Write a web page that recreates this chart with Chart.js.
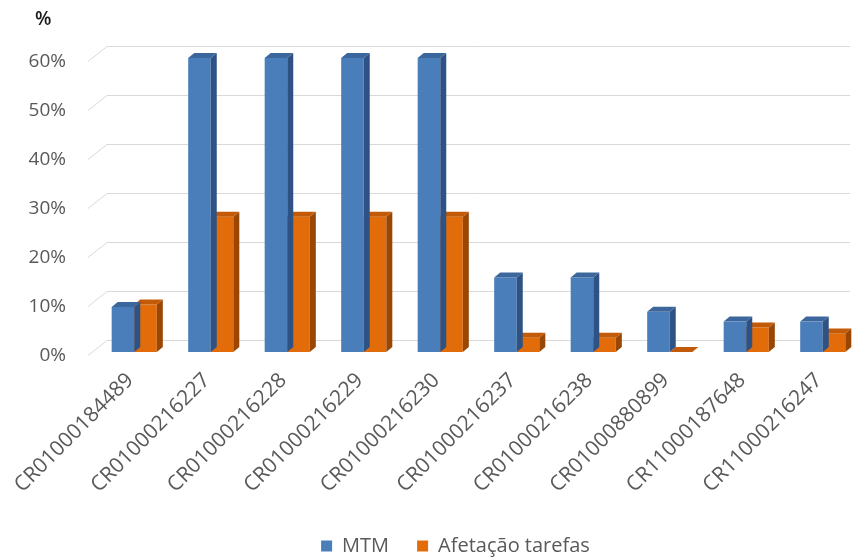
<!DOCTYPE html>
<html>
<head>
<meta charset="utf-8">
<script src="https://cdn.jsdelivr.net/npm/chart.js@4.4.0/dist/chart.umd.min.js"></script>
<style>
  html, body { margin: 0; padding: 0; background: #fff; }
  #wrap { width: 861px; height: 558px; position: relative; }
</style>
</head>
<body>
<div id="wrap"><canvas id="chart"></canvas></div>
<script>
const categories = ['CR01000184489', 'CR01000216227', 'CR01000216228', 'CR01000216229', 'CR01000216230',
  'CR01000216237', 'CR01000216238', 'CR01000880899', 'CR11000187648', 'CR11000216247'];
const mtmValues = [9.2, 60, 60, 60, 60, 15.2, 15.2, 8.2, 6.2, 6.2];
const afetacaoValues = [9.7, 27.6, 27.6, 27.6, 27.6, 2.9, 2.9, 0, 5.0, 3.8];
const yTicks = [0, 10, 20, 30, 40, 50, 60];

const FONT = "'Open Sans', 'Liberation Sans', sans-serif";
const TEXT = '#595959';

// side / top colours for the fake 3D look
const faces = [
  { top: '#3c679c', side: '#2e5283' },
  { top: '#c25a08', side: '#9a4605' }
];
const DX = 6, DY = 5;

const depthPlugin = {
  id: 'depth',
  afterLayout(chart) {
    // legend sits a little right of centre and lower in the original
    const lg = chart.legend;
    lg.left += 25;
    lg.right += 25;
    lg.top += 8;
    lg.bottom += 8;
  },
  beforeDatasetsDraw(chart) {
    const ctx = chart.ctx;
    const y = chart.scales.y;
    const area = chart.chartArea;
    ctx.save();
    ctx.strokeStyle = '#d9d9d9';
    ctx.lineWidth = 1;
    yTicks.forEach(v => {
      const py = Math.round(y.getPixelForValue(v)) + 0.5;
      ctx.beginPath();
      ctx.moveTo(area.left - 8, py + 3);
      ctx.lineTo(area.left + 11, py - 12);
      ctx.lineTo(area.right - 11, py - 12);
      ctx.stroke();
    });
    // "%" unit label
    ctx.fillStyle = '#1a1a1a';
    ctx.font = '600 19px ' + FONT;
    ctx.textAlign = 'left';
    ctx.textBaseline = 'middle';
    ctx.fillText('%', 35, 20);
    ctx.restore();
  },
  afterDatasetDraw(chart, args) {
    const ctx = chart.ctx;
    const f = faces[args.index];
    const meta = args.meta;
    ctx.save();
    meta.data.forEach(bar => {
      const left = bar.x - bar.width / 2;
      const right = bar.x + bar.width / 2;
      const top = bar.y;
      const base = bar.base;
      ctx.fillStyle = f.side;
      ctx.beginPath();
      ctx.moveTo(right, top);
      ctx.lineTo(right + DX, top - DY);
      ctx.lineTo(right + DX, base - DY);
      ctx.lineTo(right, base);
      ctx.closePath();
      ctx.fill();
      ctx.fillStyle = f.top;
      ctx.beginPath();
      ctx.moveTo(left, top);
      ctx.lineTo(left + DX, top - DY);
      ctx.lineTo(right + DX, top - DY);
      ctx.lineTo(right, top);
      ctx.closePath();
      ctx.fill();
    });
    ctx.restore();
  }
};

new Chart(document.getElementById('chart'), {
  type: 'bar',
  data: {
    labels: categories,
    datasets: [
      {
        label: 'MTM',
        data: mtmValues,
        backgroundColor: '#4a7ebb',
        categoryPercentage: 0.59,
        barPercentage: 1
      },
      {
        label: 'Afetação tarefas',
        data: afetacaoValues,
        backgroundColor: '#e36c0a',
        categoryPercentage: 0.59,
        barPercentage: 1
      }
    ]
  },
  options: {
    responsive: true,
    maintainAspectRatio: false,
    animation: false,
    layout: { padding: { top: 58, left: 0, right: 0, bottom: 0 } },
    scales: {
      x: {
        grid: { display: false },
        border: { display: false },
        ticks: {
          color: TEXT,
          font: { family: FONT, size: 21 },
          minRotation: 45,
          maxRotation: 45,
          padding: 8,
          labelOffset: -4
        },
        afterFit(scale) { scale.height = 148; }
      },
      y: {
        min: 0,
        max: 60,
        grid: { display: false, drawTicks: false },
        border: { display: false },
        ticks: {
          stepSize: 10,
          color: TEXT,
          font: { family: FONT, size: 19 },
          padding: 30,
          labelOffset: 4,
          callback: v => v + '%'
        },
        afterFit(scale) { scale.width = 96; }
      }
    },
    plugins: {
      tooltip: { enabled: false },
      legend: {
        position: 'bottom',
        labels: {
          color: TEXT,
          font: { family: FONT, size: 20 },
          boxWidth: 11,
          boxHeight: 11,
          padding: 28
        }
      }
    }
  },
  plugins: [depthPlugin]
});
</script>
</body>
</html>
